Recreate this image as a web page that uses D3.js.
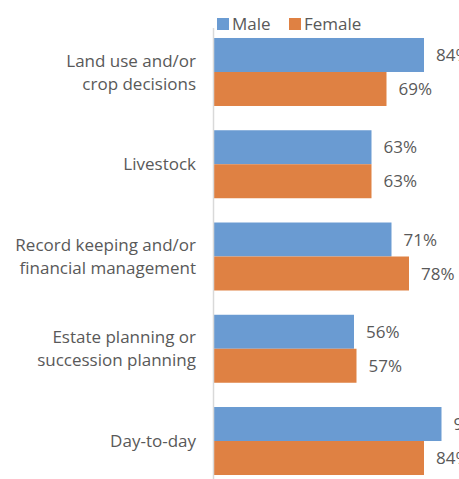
<!DOCTYPE html>
<html><head><meta charset="utf-8">
<script src="https://cdn.jsdelivr.net/npm/d3@7"></script>
<style>body{margin:0;background:#fff}svg{display:block}</style>
</head><body>
<script>
const categories = [["Land use and/or","crop decisions"],["Livestock"],["Record keeping and/or","financial management"],["Estate planning or","succession planning"],["Day-to-day"]];
const seriesNames = ["Male","Female"];
const maleValues = [84,63,71,56,91];
const femaleValues = [69,63,78,57,84];
const colors = ["#6A9BD2","#DF8143"];

const W=459,H=479;
const svg=d3.select("body").append("svg").attr("width",W).attr("height",H);
const font="'Open Sans', sans-serif";
const textColor="#595959";
const fs=17;
const x=d3.scaleLinear().domain([0,100]).range([214,464]);
const y0=d3.scaleBand().domain(d3.range(categories.length)).range([26,487]).paddingInner(0.263).paddingOuter(0.13);
const y1=d3.scaleBand().domain([0,1]).range([0,y0.bandwidth()]);

const data=categories.map((c,i)=>({c,i,vals:[maleValues[i],femaleValues[i]]}));
const g=svg.append("g");
const grp=g.selectAll("g.cat").data(data).join("g").attr("transform",d=>`translate(0,${y0(d.i)})`);
grp.selectAll("rect").data(d=>d.vals.map((v,k)=>({v,k}))).join("rect")
 .attr("x",x(0)).attr("y",d=>y1(d.k)).attr("width",d=>x(d.v)-x(0)).attr("height",y1.bandwidth())
 .attr("fill",d=>colors[d.k]);
grp.selectAll("text.val").data(d=>d.vals.map((v,k)=>({v,k}))).join("text").attr("class","val")
 .attr("x",d=>x(d.v)+12).attr("y",d=>y1(d.k)+y1.bandwidth()/2).attr("dy","0.36em")
 .attr("font-family",font).attr("font-size",fs).attr("fill",textColor).text(d=>d.v+"%");

// axis line
svg.append("line").attr("x1",213.5).attr("x2",213.5).attr("y1",28).attr("y2",H).attr("stroke","#d9d9d9").attr("stroke-width",1.5);

// category labels
grp.each(function(d){
  const t=d3.select(this).append("text").attr("text-anchor","end").attr("font-family",font).attr("font-size",fs).attr("fill",textColor);
  const n=d.c.length, lh=23, cy=y0.bandwidth()/2;
  d.c.forEach((line,j)=>{
    t.append("tspan").attr("x",196).attr("y",cy+(j-(n-1)/2)*lh).attr("dy","0.36em").text(line);
  });
});

// legend
const leg=svg.append("g");
const lx=[217,289];
seriesNames.forEach((s,k)=>{
  leg.append("rect").attr("x",lx[k]).attr("y",18).attr("width",12).attr("height",12).attr("fill",colors[k]);
  leg.append("text").attr("x",lx[k]+15).attr("y",24).attr("dy","0.36em").attr("font-family",font).attr("font-size",fs).attr("fill",textColor).text(s);
});
</script>
</body></html>
